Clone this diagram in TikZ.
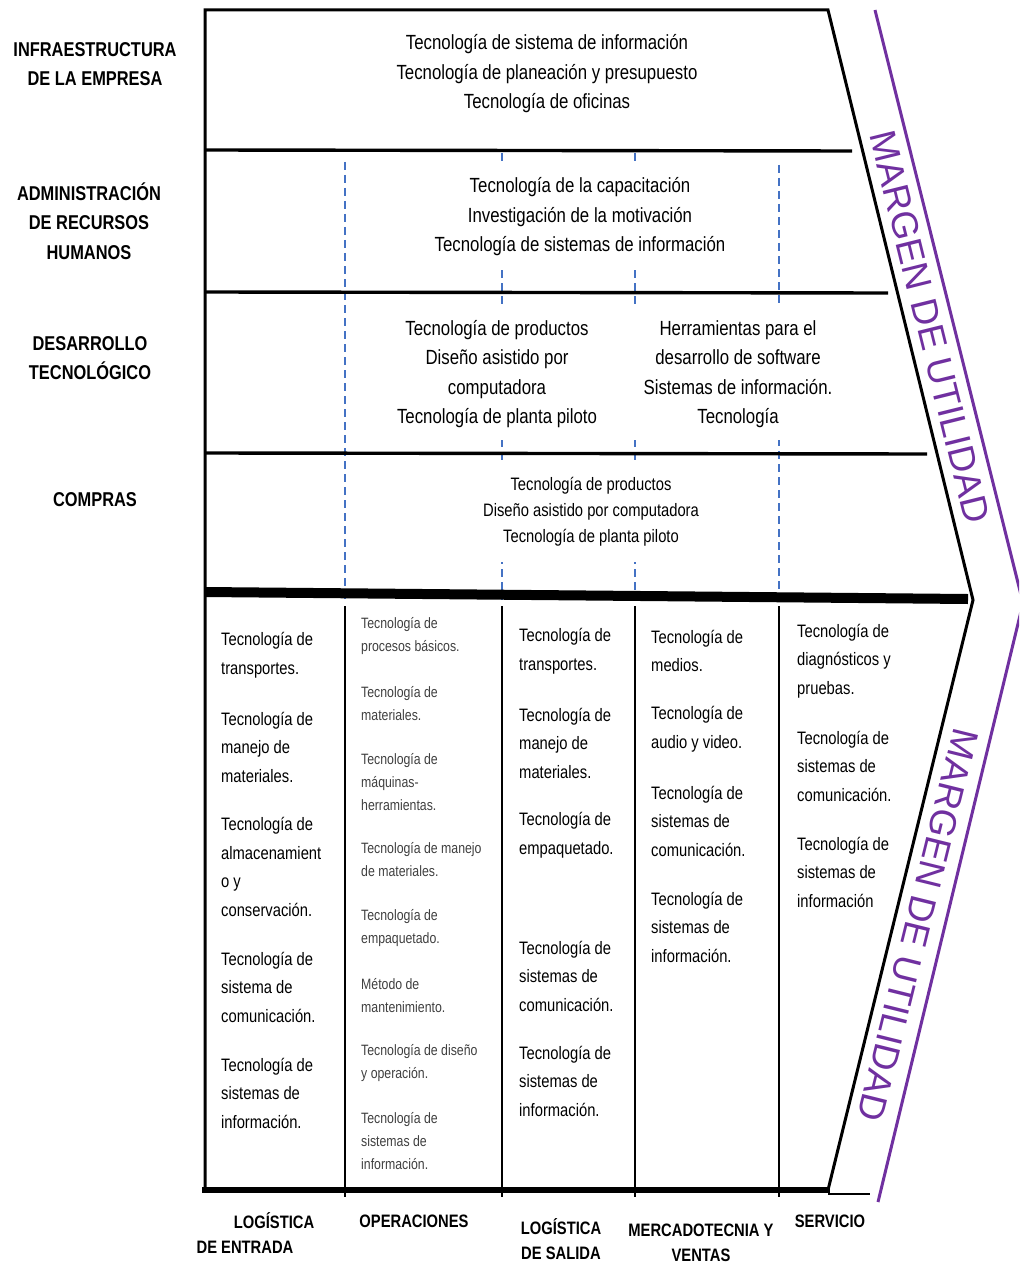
\documentclass[tikz,border=0pt]{standalone}
\usepackage{fontspec}
\setmainfont{Liberation Sans}[FakeStretch=0.82]
\newfontfamily\margenfont{Liberation Sans}
\definecolor{purp}{HTML}{7030A0}
\definecolor{dashblue}{HTML}{4472C4}
\definecolor{lightink}{HTML}{404040}
\begin{document}
\begin{tikzpicture}[x=1pt,y=-1pt,
  dashline/.style={dashblue,line width=1.1pt,dash pattern=on 8pt off 5pt},
  hline/.style={black,line width=3.4pt},
  frame/.style={black,line width=3pt,line join=miter},
  colline/.style={black,line width=2.6pt},
  rowtxt/.style={align=center,font=\fontsize{20.5}{29.5}\selectfont,fill=white,inner xsep=6pt,inner ysep=14pt},
  comptxt/.style={align=center,font=\fontsize{18}{26}\selectfont,fill=white,inner xsep=6pt,inner ysep=16pt},
  coltxt/.style={anchor=west,align=left,inner sep=0pt,font=\fontsize{18}{28.5}\selectfont},
  coltxtsm/.style={anchor=west,align=left,inner sep=0pt,text=lightink,font=\fontsize{15}{23}\selectfont},
  lbl/.style={align=center,inner sep=0pt,font=\bfseries\fontsize{20}{29.5}\selectfont},
  botlbl/.style={align=center,inner sep=0pt,font=\bfseries\fontsize{18}{25}\selectfont},
  margen/.style={text=purp,inner sep=0pt,font=\margenfont\fontsize{37}{40}\selectfont}
]
\useasboundingbox (0,0) rectangle (1019,1265);
\clip (0,0) rectangle (1019,1265);
\fill[white] (0,0) rectangle (1019,1265);

% dashed column guides in the support activities
\foreach \x/\t in {345/162,502/153,635/153,779/165}
  \draw[dashline] (\x,\t) -- (\x,600);

% support activity texts
\node[rowtxt] (infra) at (547,74) {Tecnología de sistema de información\\Tecnología de planeación y presupuesto\\Tecnología de oficinas};
\node[rowtxt] (rrhh) at (580,217) {Tecnología de la capacitación\\Investigación de la motivación\\Tecnología de sistemas de información};
\node[rowtxt,minimum width=234pt,inner ysep=12pt] (desa) at (497,374) {Tecnología de productos\\Diseño asistido por\\computadora\\Tecnología de planta piloto};
\node[rowtxt,minimum width=212pt,inner ysep=12pt] (desb) at (738,374) {Herramientas para el\\desarrollo de software\\Sistemas de información.\\Tecnología};
\node[comptxt] (comp) at (591,512) {Tecnología de productos\\Diseño asistido por computadora\\Tecnología de planta piloto};

% horizontal separators
\draw[hline] (205,150) -- (852,151);
\draw[hline] (205,292) -- (888,293);
\draw[hline] (205,453) -- (927,454);
\draw[black,line width=10pt] (205,592) -- (968,599);

% outline of the chain
\draw[frame] (205,1190) -- (205,10) -- (828,10) -- (973,600) -- (828,1190);
\draw[black,line width=6pt] (202,1190) -- (830,1190);
\draw[black,line width=1.5pt] (828,1194) -- (870,1194);

% primary activity columns
\foreach \x in {345,502,635,779}
  \draw[colline] (\x,606) -- (\x,1197);

% purple margin chevron
\draw[purp,line width=3pt,line join=miter] (875,10) -- (1023,603) -- (878,1202);
\node[margen,rotate=-76.1] (m1) at (930,327) {MARGEN DE UTILIDAD};
\node[margen,rotate=-103.9] (m2) at (918,925) {MARGEN DE UTILIDAD};

% left labels
\node[lbl] (l1) at (95,64) {INFRAESTRUCTURA\\DE LA EMPRESA};
\node[lbl] (l2) at (89,221) {ADMINISTRACIÓN\\DE RECURSOS\\HUMANOS};
\node[lbl] (l3) at (90,358) {DESARROLLO\\TECNOLÓGICO};
\node[lbl] (l4) at (95,500) {COMPRAS};

% bottom labels
\node[botlbl] (b1a) at (274,1221) {LOGÍSTICA};
\node[botlbl] (b1b) at (245,1247) {DE ENTRADA};
\node[botlbl] (b2) at (414,1221) {OPERACIONES};
\node[botlbl] (b3) at (561,1239) {LOGÍSTICA\\DE SALIDA};
\node[botlbl] (b4) at (701,1243) {MERCADOTECNIA Y\\VENTAS};
\node[botlbl] (b5) at (830,1221) {SERVICIO};

% column 1
\node[coltxt] (c1a) at (221,655) {Tecnología de\\transportes.};
\node[coltxt] (c1b) at (221,747) {Tecnología de\\manejo de\\materiales.};
\node[coltxt] (c1c) at (221,867) {Tecnología de\\almacenamient\\o y\\conservación.};
\node[coltxt] (c1d) at (221,987) {Tecnología de\\sistema de\\comunicación.};
\node[coltxt] (c1e) at (221,1093) {Tecnología de\\sistemas de\\información.};

% column 2
\node[coltxtsm] (c2a) at (361,636) {Tecnología de\\procesos básicos.};
\node[coltxtsm] (c2b) at (361,704) {Tecnología de\\materiales.};
\node[coltxtsm] (c2c) at (361,782) {Tecnología de\\máquinas-\\herramientas.};
\node[coltxtsm] (c2d) at (361,860) {Tecnología de manejo\\de materiales.};
\node[coltxtsm] (c2e) at (361,928) {Tecnología de\\empaquetado.};
\node[coltxtsm] (c2f) at (361,996) {Método de\\mantenimiento.};
\node[coltxtsm] (c2g) at (361,1063) {Tecnología de diseño\\y operación.};
\node[coltxtsm] (c2h) at (361,1141) {Tecnología de\\sistemas de\\información.};

% column 3
\node[coltxt] (c3a) at (519,651) {Tecnología de\\transportes.};
\node[coltxt] (c3b) at (519,743) {Tecnología de\\manejo de\\materiales.};
\node[coltxt] (c3c) at (519,835) {Tecnología de\\empaquetado.};
\node[coltxt] (c3d) at (519,976) {Tecnología de\\sistemas de\\comunicación.};
\node[coltxt] (c3e) at (519,1081) {Tecnología de\\sistemas de\\información.};

% column 4
\node[coltxt] (c4a) at (651,651) {Tecnología de\\medios.};
\node[coltxt] (c4b) at (651,729) {Tecnología de\\audio y video.};
\node[coltxt] (c4c) at (651,821) {Tecnología de\\sistemas de\\comunicación.};
\node[coltxt] (c4d) at (651,927) {Tecnología de\\sistemas de\\información.};

% column 5
\node[coltxt] (c5a) at (797,661) {Tecnología de\\diagnósticos y\\pruebas.};
\node[coltxt] (c5b) at (797,766) {Tecnología de\\sistemas de\\comunicación.};
\node[coltxt] (c5c) at (797,872) {Tecnología de\\sistemas de\\información};
\end{tikzpicture}
\end{document}
